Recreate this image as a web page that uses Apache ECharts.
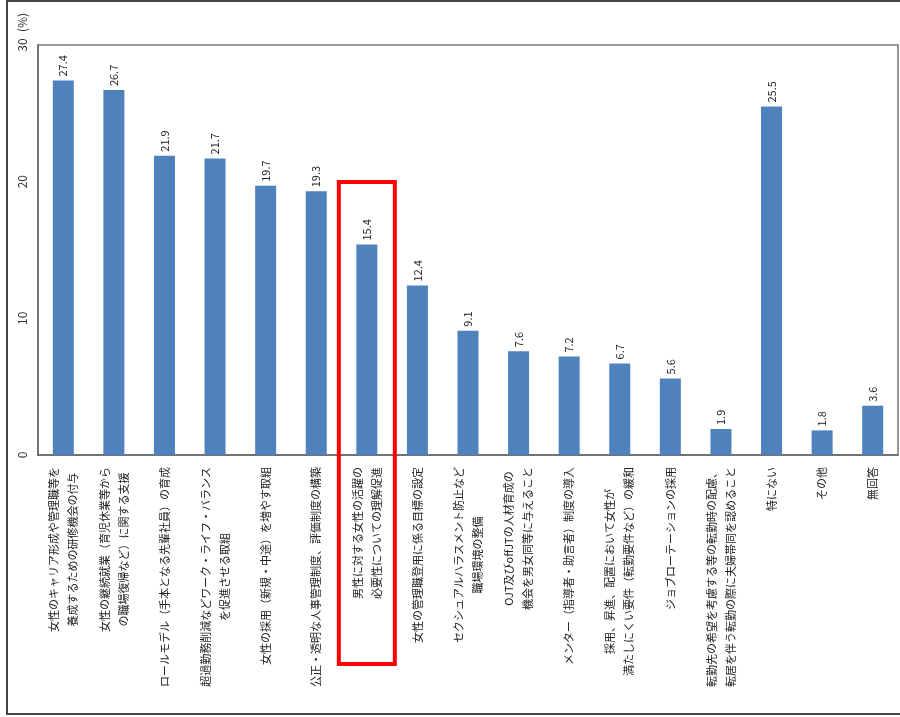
<!DOCTYPE html>
<html>
<head>
<meta charset="utf-8">
<script src="https://cdn.jsdelivr.net/npm/echarts@6/dist/echarts.min.js"></script>
<style>
  html, body { margin: 0; padding: 0; background: #fff; }
  #chart { width: 900px; height: 717px; }
</style>
</head>
<body>
<div id="chart"></div>
<script>
// Survey items (two-line labels use "\n")
const categories = [
  '女性のキャリア形成や管理職等を\n養成するための研修機会の付与',
  '女性の継続就業（育児休業等から\nの職場復帰など）に関する支援',
  'ロールモデル（手本となる先輩社員）の育成',
  '超過勤務削減などワーク・ライフ・バランス\nを促進させる取組',
  '女性の採用（新規・中途）を増やす取組',
  '公正・透明な人事管理制度、評価制度の構築',
  '男性に対する女性の活躍の\n必要性についての理解促進',
  '女性の管理職登用に係る目標の設定',
  'セクシュアルハラスメント防止など\n職場環境の整備',
  'OJT及びoffJTの人材育成の\n機会を男女同等に与えること',
  'メンター（指導者・助言者）制度の導入',
  '採用、昇進、配置において女性が\n満たしにくい要件（転勤要件など）の緩和',
  'ジョブローテーションの採用',
  '転勤先の希望を考慮する等の転勤時の配慮、\n転居を伴う転勤の際に夫婦帯同を認めること',
  '特にない',
  'その他',
  '無回答'
];

// Share of respondents (%)
const values = [27.4, 26.7, 21.9, 21.7, 19.7, 19.3, 15.4, 12.4, 9.1, 7.6, 7.2, 6.7, 5.6, 1.9, 25.5, 1.8, 3.6];

// Value axis range and step
const yMin = 0;
const yMax = 30;
const yStep = 10;
const yUnit = '(%)';

// Item emphasised with a red box
const highlightIndex = 6;

const FONT = '"Noto Sans CJK JP", "Noto Sans", sans-serif';

const chart = echarts.init(document.getElementById('chart'), null, { renderer: 'canvas' });

chart.setOption({
  animation: false,
  backgroundColor: '#ffffff',
  grid: {
    left: 38, right: 2, top: 45, bottom: 262,
    show: true, borderColor: '#777', borderWidth: 1.5,
    containLabel: false
  },
  xAxis: {
    type: 'category',
    data: categories,
    axisTick: { show: false },
    axisLine: { lineStyle: { color: '#666', width: 1.5 } },
    axisLabel: {
      interval: 0,
      rotate: 90,
      margin: 12,
      fontFamily: FONT,
      fontSize: 11,
      color: '#222',
      formatter: v => v.split('\n').map(s => '{c|' + s + '}').join('\n'),
      rich: {
        c: { align: 'center', fontFamily: FONT, fontSize: 11, lineHeight: 19, color: '#222' }
      }
    }
  },
  yAxis: {
    type: 'value',
    min: yMin,
    max: yMax,
    interval: yStep,
    name: yUnit,
    nameLocation: 'end',
    nameRotate: 90,
    nameGap: 13,
    nameTextStyle: {
      fontFamily: FONT, fontSize: 12, color: '#333',
      align: 'left', verticalAlign: 'bottom', padding: [0, 0, 10, 0]
    },
    axisLine: { show: true, lineStyle: { color: '#666', width: 1.5 } },
    axisTick: { show: false },
    splitLine: { show: false },
    axisLabel: {
      rotate: 90,
      margin: 10,
      fontFamily: FONT,
      fontSize: 12,
      color: '#333'
    }
  },
  series: [{
    type: 'bar',
    data: values,
    barWidth: 21,
    itemStyle: { color: '#4F81BD' },
    label: {
      show: true,
      position: 'top',
      distance: 4,
      rotate: 90,
      align: 'left',
      verticalAlign: 'middle',
      fontFamily: FONT,
      fontSize: 11,
      color: '#222',
      formatter: p => p.value.toFixed(1)
    }
  }]
});

// Outer frame and the red highlight box around one item
const cx = chart.convertToPixel({ xAxisIndex: 0 }, highlightIndex);
chart.setOption({
  graphic: [
    {
      type: 'rect', z: 100, silent: true,
      shape: { x: 7, y: 1, width: 900, height: 713 },
      style: { fill: 'none', stroke: '#444', lineWidth: 2 }
    },
    {
      type: 'rect', z: 100, silent: true,
      shape: { x: cx - 28, y: 182, width: 56, height: 482 },
      style: { fill: 'none', stroke: '#ff0000', lineWidth: 4 }
    }
  ]
});
</script>
</body>
</html>
